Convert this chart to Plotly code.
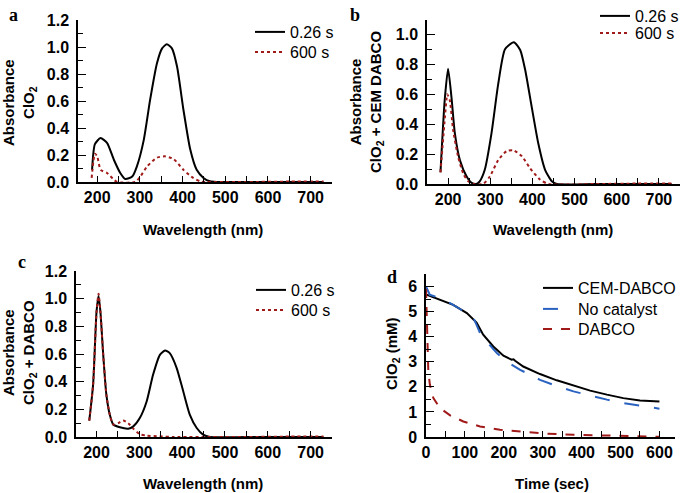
import plotly.graph_objects as go

# Panel a: ClO2
a_black_x = [188, 194.6, 207.8, 223, 239, 254, 266, 282, 293, 309, 324, 340, 352, 363, 375, 387, 402, 418, 433, 449, 464, 480, 550, 650, 730]
a_black_y = [0.09, 0.28, 0.325, 0.29, 0.165, 0.067, 0.022, 0.04, 0.116, 0.31, 0.61, 0.88, 0.99, 1.02, 0.99, 0.855, 0.535, 0.24, 0.09, 0.03, 0.005, 0.0, 0.0, 0.0, 0.0]
a_red_x = [187, 194.6, 200, 208, 223, 239, 247, 289, 301, 317, 340, 359, 379, 402, 425, 441, 456, 550, 650, 730]
a_red_y = [0.03, 0.21, 0.19, 0.09, 0.067, 0.017, 0.0, 0.0, 0.04, 0.116, 0.18, 0.19, 0.17, 0.09, 0.03, 0.005, 0.0, 0.0, 0.003, 0.003]

# Panel b: ClO2 + CEM DABCO
b_black_x = [182, 192, 200, 208, 216, 228, 244, 256, 267, 275, 287, 303, 319, 335, 356, 371, 383, 398, 414, 430, 446, 458, 550, 650, 730]
b_black_y = [0.078, 0.56, 0.77, 0.58, 0.34, 0.16, 0.05, 0.007, 0.0, 0.018, 0.095, 0.34, 0.67, 0.9, 0.947, 0.895, 0.76, 0.52, 0.27, 0.095, 0.018, 0.0, 0.0, 0.0, 0.0]
b_red_x = [182, 196, 198, 204, 212, 224, 236, 248, 260, 283, 299, 319, 339, 355, 375, 394, 418, 438, 550, 650, 730]
b_red_y = [0.078, 0.56, 0.6, 0.56, 0.36, 0.18, 0.07, 0.018, 0.0, 0.0, 0.05, 0.16, 0.22, 0.225, 0.185, 0.107, 0.03, 0.0, 0.0, 0.003, 0.003]

# Panel c: ClO2 + DABCO
c_black_x = [183, 192, 200, 204.7, 209, 215.6, 223, 231, 239, 254.5, 274, 286, 301, 317, 332, 348, 360, 371, 387, 402.5, 418, 434, 449, 465, 550, 650, 730]
c_black_y = [0.118, 0.38, 0.907, 1.02, 0.907, 0.594, 0.305, 0.16, 0.09, 0.07, 0.06, 0.077, 0.137, 0.257, 0.45, 0.594, 0.625, 0.606, 0.5, 0.33, 0.16, 0.065, 0.017, 0.0, 0.0, 0.0, 0.0]
c_red_x = [183, 192, 200, 204.7, 209, 215.6, 223, 231, 239, 250.6, 262, 274, 286, 301, 317, 348, 379, 550, 650, 730]
c_red_y = [0.118, 0.38, 0.907, 1.035, 0.907, 0.594, 0.305, 0.16, 0.09, 0.1, 0.12, 0.1, 0.06, 0.02, 0.01, 0.005, 0.0, 0.0, 0.003, 0.003]

# Panel d: ClO2 decay
d_time_cem = [0, 36, 70, 105, 126, 130, 147, 173, 199, 220, 225, 229, 250, 293, 336, 379, 422, 465, 507, 550, 600]
d_cem = [5.69, 5.47, 5.27, 4.94, 4.63, 4.56, 4.08, 3.61, 3.24, 3.08, 3.1, 3.04, 2.81, 2.51, 2.26, 2.04, 1.85, 1.69, 1.55, 1.46, 1.42]
d_time_nocat = [0, 10, 36, 70, 105, 122, 130, 139, 156, 182, 207, 242, 293, 336, 379, 422, 465, 507, 550, 600]
d_nocat = [6.0, 5.67, 5.54, 5.27, 4.94, 4.74, 4.47, 4.14, 3.81, 3.35, 3.01, 2.68, 2.28, 2.03, 1.82, 1.65, 1.49, 1.35, 1.25, 1.13]
d_time_dabco = [0, 1.7, 3.4, 6, 10, 19, 36, 62, 96, 139, 190, 250, 310, 379, 465, 550, 600]
d_dabco = [5.9, 5.0, 3.68, 2.6, 2.08, 1.55, 1.15, 0.86, 0.62, 0.42, 0.29, 0.2, 0.13, 0.09, 0.05, 0.013, 0.01]

wl_ticks = [200, 300, 400, 500, 600, 700]
time_ticks = [0, 100, 200, 300, 400, 500, 600]

BLACK = "#000000"
RED = "#a01a1a"
BLUE = "#2a62c0"
FONT = "Arial, Liberation Sans, sans-serif"
W, H = 685, 493

def px_x(p):
    return p / W

def px_y(p):
    return 1 - p / H

fig = go.Figure()

# each legend entry gets its own legend box so row spacing matches the reference
legend_defs = {}
leg_font = dict(family=FONT, size=16, color="black")

def add(x, y, color, dash, name, xa, ya, legend, text_x, row_y, width=2, smooth=True):
    line = dict(color=color, dash=dash, width=width)
    if smooth:
        line.update(shape="spline", smoothing=0.6)
    fig.add_trace(go.Scatter(x=x, y=y, mode="lines", name=name, line=line,
                             xaxis=xa, yaxis=ya, legend=legend))
    legend_defs[legend] = dict(x=px_x(text_x - 40), y=px_y(row_y), xanchor="left", yanchor="middle",
                               bgcolor="rgba(0,0,0,0)", borderwidth=0, font=leg_font, itemwidth=30)

add(a_black_x, a_black_y, BLACK, "solid", "0.26 s", "x", "y", "legend", 290, 32)
add(a_red_x, a_red_y, RED, "dot", "600 s", "x", "y", "legend2", 290, 52)
add(b_black_x, b_black_y, BLACK, "solid", "0.26 s", "x2", "y2", "legend3", 635, 16)
add(b_red_x, b_red_y, RED, "dot", "600 s", "x2", "y2", "legend4", 635, 33)
add(c_black_x, c_black_y, BLACK, "solid", "0.26 s", "x3", "y3", "legend5", 291, 290)
add(c_red_x, c_red_y, RED, "dot", "600 s", "x3", "y3", "legend6", 291, 310)
add(d_time_cem, d_cem, BLACK, "solid", "CEM-DABCO", "x4", "y4", "legend7", 578, 288, smooth=False)
add(d_time_nocat, d_nocat, BLUE, "longdash", "No catalyst", "x4", "y4", "legend8", 578, 309, smooth=False)
add(d_time_dabco, d_dabco, RED, "dash", "DABCO", "x4", "y4", "legend9", 578, 329, smooth=False)

bold_tick = dict(family=FONT, size=16, color="black", weight="bold")
title_font = dict(family=FONT, size=15, color="black", weight="bold")

def xaxis(dom, rng, anchor, tickvals, minor_dtick):
    return dict(domain=dom, range=rng, anchor=anchor, showline=True, linecolor="black", linewidth=1.5,
                ticks="inside", ticklen=6, tickwidth=1.2, tickcolor="black", automargin=False,
                tickvals=tickvals, tickfont=bold_tick, showgrid=False, zeroline=False,
                minor=dict(ticks="inside", ticklen=6, tickwidth=1.2, tickcolor="black", dtick=minor_dtick, showgrid=False))

def yaxis(dom, rng, anchor, dtick, minor_dtick, fmt):
    return dict(domain=dom, range=rng, anchor=anchor, showline=True, linecolor="black", linewidth=1.5,
                ticks="inside", ticklen=8, tickwidth=1.2, tickcolor="black", automargin=False,
                ticklabelstandoff=4,
                dtick=dtick, tick0=0, tickformat=fmt, tickfont=bold_tick, showgrid=False, zeroline=False,
                minor=dict(ticks="inside", ticklen=5, tickwidth=1.2, tickcolor="black", dtick=minor_dtick, showgrid=False))

layout = dict(
    width=W, height=H, margin=dict(l=0, r=0, t=0, b=0, autoexpand=False),
    paper_bgcolor="white", plot_bgcolor="white", font=dict(family=FONT, color="black"),
    xaxis=xaxis([px_x(78), px_x(332)], [155, 750], "y", wl_ticks, 50),
    yaxis=yaxis([px_y(182), px_y(20)], [0, 1.2], "x", 0.2, 0.1, ".1f"),
    xaxis2=xaxis([px_x(427), px_x(680)], [150, 750], "y2", wl_ticks, 50),
    yaxis2=yaxis([px_y(184), px_y(20)], [0, 1.095], "x2", 0.2, 0.1, ".1f"),
    xaxis3=xaxis([px_x(76), px_x(332)], [152, 750], "y3", wl_ticks, 50),
    yaxis3=yaxis([px_y(437), px_y(271)], [0, 1.2], "x3", 0.2, 0.1, ".1f"),
    xaxis4=xaxis([px_x(426), px_x(675)], [0, 640], "y4", time_ticks, 50),
    yaxis4=yaxis([px_y(437), px_y(274)], [0, 6.5], "x4", 1, 0.5, "d"),
    showlegend=True,
)
layout.update(legend_defs)
fig.update_layout(**layout)

# axis titles as paper annotations
titles = [
    ("Wavelength (nm)", 203, 230, 0),
    ("Wavelength (nm)", 553, 230, 0),
    ("Wavelength (nm)", 203, 483, 0),
    ("Time (sec)", 552, 483, 0),
    ("Absorbance<br>ClO<sub>2</sub>", 19, 103, -90),
    ("Absorbance<br>ClO<sub>2</sub> + CEM DABCO", 367, 102, -90),
    ("Absorbance<br>ClO<sub>2</sub> + DABCO", 19, 353, -90),
    ("ClO<sub>2</sub> (mM)", 392, 353, -90),
]
for txt, xp, yp, ang in titles:
    fig.add_annotation(text=txt, x=px_x(xp), y=px_y(yp), xref="paper", yref="paper",
                       showarrow=False, xanchor="center", yanchor="middle", textangle=ang,
                       font=title_font)

labels = [("a", 13, 15), ("b", 355, 15), ("c", 22, 262), ("d", 392, 277)]
for txt, xp, yp in labels:
    fig.add_annotation(text=txt, x=px_x(xp), y=px_y(yp), xref="paper", yref="paper",
                       showarrow=False, xanchor="center", yanchor="middle",
                       font=dict(family="Liberation Serif, Times New Roman, serif", size=18, color="black", weight="bold"))

fig.write_html("out.html", config={"displayModeBar": False},
               post_script="document.body.style.margin='0';")
